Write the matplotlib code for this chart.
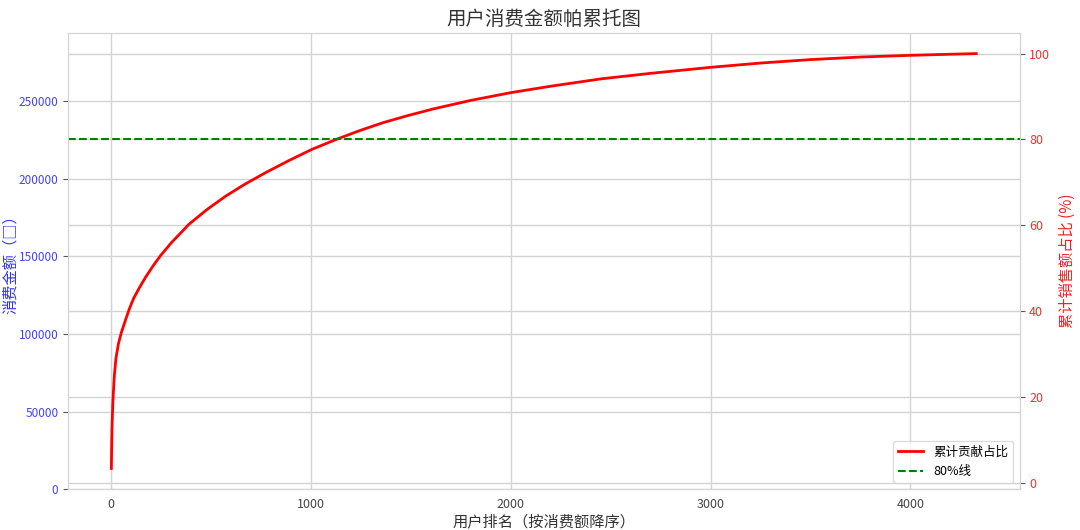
import numpy as np
import matplotlib.pyplot as plt

plt.rcParams['font.family'] = ['Noto Sans CJK SC', 'DejaVu Sans']
plt.rcParams['axes.unicode_minus'] = False

# Top users' spending (read roughly, bars are barely visible in the original)
top_rank = [0, 1, 2, 3, 4, 5, 6]
top_amount = [280000, 230000, 200000, 170000, 150000, 130000, 120000]

# Cumulative contribution (%) at several ranks
cum_rank = [0, 1, 2, 3, 5, 7, 10, 15, 23, 35, 50, 70, 90, 112, 140, 173, 210,
            246, 300, 388, 480, 573, 670, 774, 890, 1005, 1126, 1240, 1360,
            1480, 1611, 1800, 2000, 2200, 2449, 2700, 3000, 3250, 3500, 3750,
            4000, 4200, 4330]
cum_pct = [3.3, 7.0, 10.0, 12.3, 15.5, 18.0, 21.0, 25.0, 29.0, 32.3, 35.0,
           37.8, 40.5, 43.0, 45.4, 48.0, 50.6, 52.9, 55.9, 60.2, 63.7, 66.8,
           69.6, 72.3, 75.1, 77.7, 80.0, 82.0, 83.9, 85.5, 87.1, 89.1, 90.9,
           92.4, 94.1, 95.4, 96.8, 97.8, 98.6, 99.2, 99.6, 99.85, 100.0]

fig = plt.figure(figsize=(10.8, 5.3), dpi=100)
ax1 = fig.add_axes([0.063, 0.077, 0.881, 0.861])

grid_c = '#d3d3d3'
ax1.bar(top_rank, top_amount, width=0.8, color='skyblue', alpha=0.08)
ax1.set_ylabel('消费金额（□）', color='#3333ee', fontsize=11)
ax1.yaxis.set_label_coords(-0.052, 0.5)
ax1.set_xlabel('用户排名（按消费额降序）', color='#333333', fontsize=11, labelpad=2)
ax1.tick_params(axis='y', labelcolor='#4444ee', labelsize=8.5, length=3.5, color='#555555')
ax1.tick_params(axis='x', labelcolor='#444444', labelsize=9, length=0, pad=6)
ax1.grid(True, color=grid_c, linewidth=1)
for s in ax1.spines.values():
    s.set_color(grid_c)

ax2 = ax1.twinx()
ax2.plot(cum_rank, cum_pct, color='red', linewidth=2, label='累计贡献占比')
ax2.axhline(80, color='green', linestyle='--', linewidth=1.5, label='80%线')
ax2.set_ylabel('累计销售额占比 (%)', color='#ee2222', fontsize=11, labelpad=6)
ax2.tick_params(axis='y', labelcolor='#ee3333', labelsize=9, length=3.5, color='#555555')
ax2.grid(True, color=grid_c, linewidth=1)
for s in ax2.spines.values():
    s.set_color(grid_c)
ax2.set_yticks([0, 20, 40, 60, 80, 100])

ax2.legend(loc='lower right', fontsize=9, frameon=True, edgecolor=grid_c, fancybox=True)
ax1.set_title('用户消费金额帕累托图', fontsize=14, color='#333333', pad=6)

fig.savefig('out.png')
